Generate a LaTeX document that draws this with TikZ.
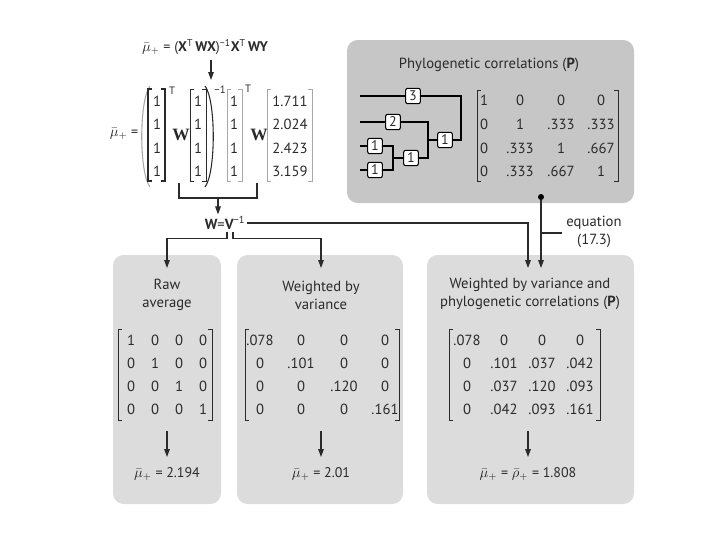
\documentclass[tikz,border=0pt]{standalone}
\usepackage{fontspec}
\setmainfont{PT Sans}
\newfontfamily\wserif{Liberation Serif}
\usetikzlibrary{arrows.meta,calc}
\definecolor{topgray}{HTML}{C6C6C6}
\definecolor{lowgray}{HTML}{DCDCDC}
\definecolor{ink}{HTML}{2A2A2A}
\definecolor{faint}{HTML}{A8A8A8}
\newcommand\putmatrix[4]{%
  \foreach \row [count=\r from 0] in {#4} {
    \foreach \val [count=\c from 0] in \row {
      \pgfmathsetmacro\xx{{#2}[\c]}
      \pgfmathsetmacro\yy{{#3}[\r]}
      \node[entry] (#1-\r-\c) at (\xx,\yy) {\val};
    }}}
\newcommand\putcol[4]{%
  \foreach \val [count=\r from 0] in {#4} {
      \pgfmathsetmacro\yy{{#3}[\r]}
      \node[entry] (#1-\r) at (#2,\yy) {\val};
    }}
\newcommand\mbrk[5][]{\draw[brk,#1] ({#2+4},#4) -- (#2,#4) -- (#2,#5) -- ({#2+4},#5)
  ({#3-4},#4) -- (#3,#4) -- (#3,#5) -- ({#3-4},#5);}
\tikzset{
  entry/.style={inner sep=0pt, text=ink, font=\fontsize{11}{12}\selectfont},
  brk/.style={draw=ink, line width=0.7pt},
  heavy/.style={line width=1.4pt},
  light/.style={draw=faint},
  line/.style={draw=ink, line width=0.8pt},
  arr/.style={line, -{Triangle[length=6pt,width=4.2pt]}},
  tree/.style={draw=black, line width=1.3pt},
  tbox/.style={draw=black, line width=0.8pt, fill=white, rounded corners=1.5pt,
    minimum width=11pt, minimum height=11.5pt, inner sep=0pt, font=\fontsize{10.5}{11}\selectfont},
  panel/.style={rounded corners=8pt},
  head/.style={align=center, text=ink, font=\fontsize{11}{13.5}\selectfont},
  sup/.style={font=\fontsize{8}{9}\selectfont, inner sep=0pt},
}
\begin{document}
\begin{tikzpicture}[x=0.75pt,y=-0.75pt, font=\fontsize{10.5}{12.5}\selectfont, text=ink]
\useasboundingbox (0,0) rectangle (720,540);
% panels
\fill[topgray, panel] (347,40) rectangle (634,203);
\fill[lowgray, panel] (113,255) rectangle (221,504);
\fill[lowgray, panel] (237,255) rectangle (403,504);
\fill[lowgray, panel] (427,255) rectangle (634,504);

% top formula
\node (topeq) at (205,47) {$\bar{\mu}_+$ = ({\bfseries X}\textsuperscript{T}\,{\bfseries WX})\textsuperscript{−1}{\bfseries X}\textsuperscript{T}\,{\bfseries WY}};
\coordinate (c1) at (211,80);
\draw[arr] (topeq.south -| c1) -- (c1);

% big equation
\node (lhs) at (124,134) {$\bar{\mu}_+$ =};
\draw[draw=faint, line width=0.8pt] (150,86) .. controls (139,100) and (139,173) .. (150,187);
\draw[draw=ink, line width=0.8pt] (205,86) .. controls (216,100) and (216,173) .. (205,187);
\mbrk[heavy]{148}{165}{89}{181}
\putcol{ma}{157}{101,124,148,171}{1,1,1,1}
\node[sup] (ta) at (172,91) {T};
\node (w1) at (181,135) {\wserif\bfseries\fontsize{13}{14}\selectfont W};
\mbrk{190}{206}{89}{181}
\putcol{mb}{198}{101,124,148,171}{1,1,1,1}
\node[sup] (tinv) at (220,90) {−1};
\mbrk[light]{227}{242}{89}{181}
\putcol{mc}{234}{101,124,148,171}{1,1,1,1}
\node[sup] (tb) at (248,89) {T};
\node (w2) at (259,135) {\wserif\bfseries\fontsize{13}{14}\selectfont W};
\mbrk[light]{267}{312}{89}{181}
\putcol{my}{290}{101,124,148,171}{1.711,2.024,2.423,3.159}
\draw[line] (179,183) -- (179,198) -- (257,198) -- (257,183);
\coordinate (brk) at (218,198);

% W = V^-1
\node[inner sep=1.5pt, font=\fontsize{11}{12}\selectfont] (wv) at (225,223) {{\bfseries W}={\bfseries V}\textsuperscript{−1}};
\draw[arr] (brk) -- (brk |- wv.north);
\coordinate (p1in) at (167,268);
\coordinate (p2in) at (321,268);
\coordinate (p3in1) at (528,268);
\coordinate (p3in2) at (541,268);
\draw[arr] (wv.east) -| (p3in1);
\draw[arr] ($(wv.south)+(2,0)$) -- ++(0,7) -| (p1in);
\draw[arr] ($(wv.south)+(8,0)$) -- ++(0,7) -| (p2in);

% phylogenetic panel
\node[head] (ptitle) at (489,65) {Phylogenetic correlations ({\bfseries P})};
\coordinate (l3) at (360,96);
\coordinate (l2) at (360,122);
\coordinate (l1a) at (360,146);
\coordinate (l1b) at (360,170);
\coordinate (v3) at (461,96);
\coordinate (v2) at (428,122);
\coordinate (v1) at (393,146);
\coordinate (cb3) at (413,96);
\coordinate (cb2) at (393,122);
\coordinate (cb1a) at (375,146);
\coordinate (cb1b) at (375,170);
\coordinate (cbm) at (411,158);
\coordinate (cbr) at (445,140);
\draw[tree] (l3) -- (v3) |- (cbr);
\draw[tree] (l2) -- (v2) |- (cbm);
\draw[tree] (v2 |- cbr) -- (cbr);
\draw[tree] (l1a) -- (v1) |- (l1b);
\draw[tree] (v1 |- cbm) -- (cbm);
\node[tbox] (b3) at (cb3) {3};
\node[tbox] (b2) at (cb2) {2};
\node[tbox] (b1a) at (cb1a) {1};
\node[tbox] (b1b) at (cb1b) {1};
\node[tbox] (bm) at (cbm) {1};
\node[tbox] (br) at (cbr) {1};
\mbrk{477}{618}{90}{181}
\putmatrix{pm}{484,520,561,601}{100,124,148,171}{{1,0,0,0},{0,1,.333,.333},{0,.333,1,.667},{0,.333,.667,1}}

\node[circle, fill=black, inner sep=0pt, minimum size=4.5pt] (dot) at (541,197) {};
\draw[arr] (dot) -- (p3in2);
\node[head] (eqlab) at (594,232) {equation\\(17.3)};
\coordinate (tk) at (541,233);
\draw[line] (tk) -- (tk -| eqlab.west);

% panel 1
\node[head] (h1) at (167,295) {Raw\\average};
\mbrk{118}{212}{329}{420}
\putmatrix{ra}{131,155,179,203}{340,363,386,409}{{1,0,0,0},{0,1,0,0},{0,0,1,0},{0,0,0,1}}
\coordinate (a1s) at (167,431);
\coordinate (a1e) at (167,457);
\draw[arr] (a1s) -- (a1e);
\node (r1) at (167,474) {$\bar{\mu}_+$ = 2.194};

% panel 2
\node[head] (h2) at (321,295) {Weighted by\\variance};
\mbrk{245}{399}{329}{420}
\putmatrix{wa}{260,301,344,385}{340,363,386,409}{{.078,0,0,0},{0,.101,0,0},{0,0,.120,0},{0,0,0,.161}}
\coordinate (a2s) at (321,431);
\coordinate (a2e) at (321,457);
\draw[arr] (a2s) -- (a2e);
\node (r2) at (321,474) {$\bar{\mu}_+$ = 2.01};

% panel 3
\node[head] (h3) at (530,294) {Weighted by variance and\\phylogenetic correlations ({\bfseries P})};
\mbrk{449}{600}{329}{420}
\putmatrix{pw}{467,504,542,580}{340,363,386,409}{{.078,0,0,0},{0,.101,.037,.042},{0,.037,.120,.093},{0,.042,.093,.161}}
\coordinate (a3s) at (528,431);
\coordinate (a3e) at (528,457);
\draw[arr] (a3s) -- (a3e);
\node (r3) at (528,474) {$\bar{\mu}_+$ = $\bar{\rho}_+$ = 1.808};
\end{tikzpicture}
\end{document}
